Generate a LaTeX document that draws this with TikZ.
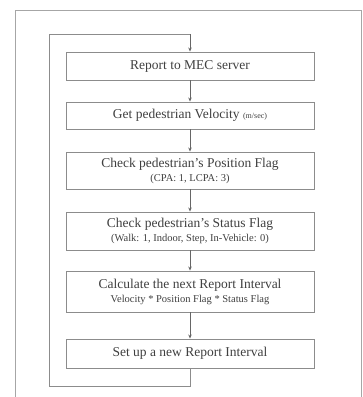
\documentclass[tikz,border=0pt]{standalone}
\usepackage{fontspec}
\setmainfont{Liberation Serif}
\usetikzlibrary{arrows.meta}
\begin{document}
\begin{tikzpicture}[x=1pt,y=-1pt,
  stepbox/.style={draw=black!45,line width=0.9pt,rectangle,minimum width=248pt,inner sep=0pt,align=center,text=black!75,font=\rmfamily\fontsize{13.5}{15}\selectfont},
  frameline/.style={draw=black!35,line width=1pt},
  flow/.style={draw=black!60,line width=0.8pt,-{Stealth[length=4pt,width=3.5pt]}},
  loopline/.style={draw=black!45,line width=0.9pt}]
\useasboundingbox (0,0) rectangle (363,397);
\fill[white] (0,0) rectangle (363,397);
% outer frame
\coordinate (f1) at (15,397);
\coordinate (f2) at (15,10);
\coordinate (f3) at (361,10);
\coordinate (f4) at (361,397);
\draw[frameline] (f1) -- (f2) -- (f3) -- (f4);
\newcommand{\subfont}{\rmfamily\fontsize{10.5}{12}\selectfont}
\node[stepbox,minimum height=28pt] (b1) at (190,66) {Report to MEC server};
\node[stepbox,minimum height=27pt] (b2) at (190,115.5) {Get pedestrian Velocity {\fontsize{8}{9}\selectfont(m/sec)}};
\node[stepbox,minimum height=37pt] (b3) at (190,170.5) {Check pedestrian's Position Flag\\[-1pt]{\subfont(CPA: 1, LCPA: 3)}};
\node[stepbox,minimum height=38pt] (b4) at (190,231) {Check pedestrian's Status Flag\\[-1pt]{\subfont(Walk: 1, Indoor, Step, In-Vehicle: 0)}};
\node[stepbox,minimum height=41pt] (b5) at (190,291.5) {Calculate the next Report Interval\\[-1pt]{\subfont Velocity * Position Flag * Status Flag}};
\node[stepbox,minimum height=29pt] (b6) at (190,353.5) {Set up a new Report Interval};
\draw[flow] (b1) -- (b2);
\draw[flow] (b2) -- (b3);
\draw[flow] (b3) -- (b4);
\draw[flow] (b4) -- (b5);
\draw[flow] (b5) -- (b6);
% loop
\coordinate (l1) at (190,386);
\coordinate (l2) at (49,386);
\coordinate (l3) at (49,34);
\coordinate (l4) at (190,34);
\draw[loopline] (b6.south) -- (l1) -- (l2) -- (l3) -- (l4);
\draw[flow] (l4) -- (b1.north);
\end{tikzpicture}
\end{document}
